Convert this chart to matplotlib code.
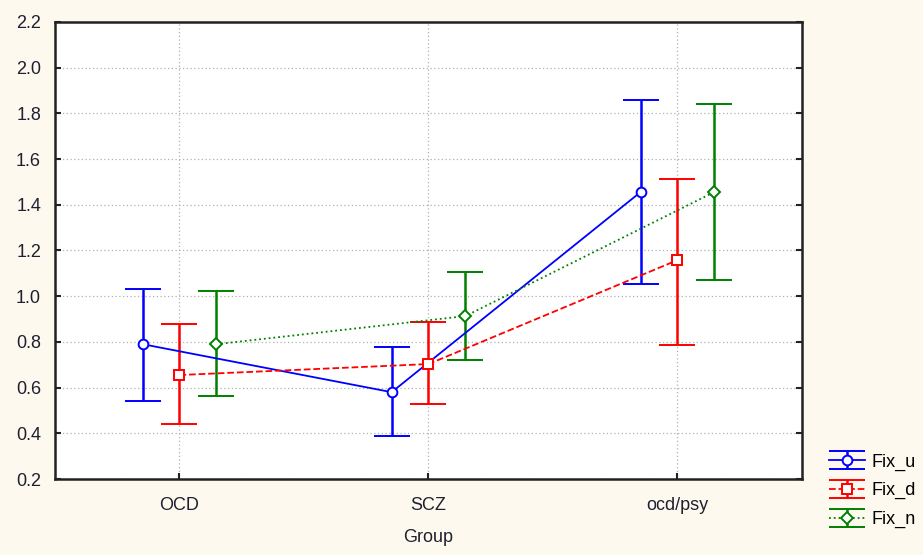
import matplotlib
matplotlib.use("Agg")
import matplotlib.pyplot as plt
import numpy as np

plt.rcParams['font.family'] = ['Liberation Sans', 'DejaVu Sans']

groups = ["OCD", "SCZ", "ocd/psy"]
series = ["Fix_u", "Fix_d", "Fix_n"]

fix_u_mean = [0.79, 0.58, 1.456]
fix_u_low = [0.541, 0.388, 1.053]
fix_u_high = [1.031, 0.778, 1.859]

fix_d_mean = [0.655, 0.703, 1.158]
fix_d_low = [0.441, 0.528, 0.786]
fix_d_high = [0.878, 0.887, 1.513]

fix_n_mean = [0.79, 0.913, 1.456]
fix_n_low = [0.563, 0.721, 1.071]
fix_n_high = [1.023, 1.106, 1.841]

bg = "#fef9ef"
fig = plt.figure(figsize=(9.23, 5.55), dpi=100, facecolor=bg)
ax = fig.add_axes([55/923, 1-479/555, (802-55)/923, (479-22)/555])
ax.set_facecolor("white")

x = np.arange(len(groups))
offsets = [-0.148, 0.0, 0.148]
styles = [
    dict(color="#0000ff", ls="-", marker="o"),
    dict(color="#ff0000", ls="--", marker="s"),
    dict(color="#008000", ls=":", marker="D"),
]
means = [fix_u_mean, fix_d_mean, fix_n_mean]
lows = [fix_u_low, fix_d_low, fix_n_low]
highs = [fix_u_high, fix_d_high, fix_n_high]

handles = []
for name, off, st, m, lo, hi in zip(series, offsets, styles, means, lows, highs):
    m = np.array(m); lo = np.array(lo); hi = np.array(hi)
    yerr = np.vstack([m - lo, hi - m])
    ms = 7 if st["marker"] != "D" else 6
    h = ax.errorbar(x + off, m, yerr=yerr, color=st["color"], ls=st["ls"],
                    lw=1.3, marker=st["marker"], ms=ms, mfc="white",
                    mec=st["color"], mew=1.4, capsize=13, capthick=1.8,
                    elinewidth=1.8, label=name, zorder=3)
    handles.append(h)

ax.set_xlim(-0.5, 2.5)
ax.set_ylim(0.2, 2.2)
ax.set_yticks(np.arange(0.2, 2.21, 0.2))
ax.set_yticklabels([f"{v:.1f}" for v in np.arange(0.2, 2.21, 0.2)])
ax.set_xticks(x)
ax.set_xticklabels(groups)
ax.grid(True, ls=(0, (1, 2)), color="#b0b0b0", lw=0.9, zorder=0)
ax.tick_params(direction="in", length=4, width=1.5, color="#222222",
               labelsize=13, labelcolor="#1e2030", right=True)
ax.tick_params(axis="y", pad=10)
ax.tick_params(axis="x", pad=13)
for sp in ax.spines.values():
    sp.set_linewidth(1.8)
    sp.set_color("#222222")
ax.set_xlabel("Group", fontsize=13, color="#1e2030", labelpad=11)

fig.legend(handles=handles, labels=series, loc="lower left",
           bbox_to_anchor=(816/923, 1-541/555), frameon=False,
           fontsize=13, handlelength=2.0, handletextpad=0.35,
           labelspacing=0.65, borderpad=0.2)

fig.savefig("out.png", dpi=100, facecolor=bg)
